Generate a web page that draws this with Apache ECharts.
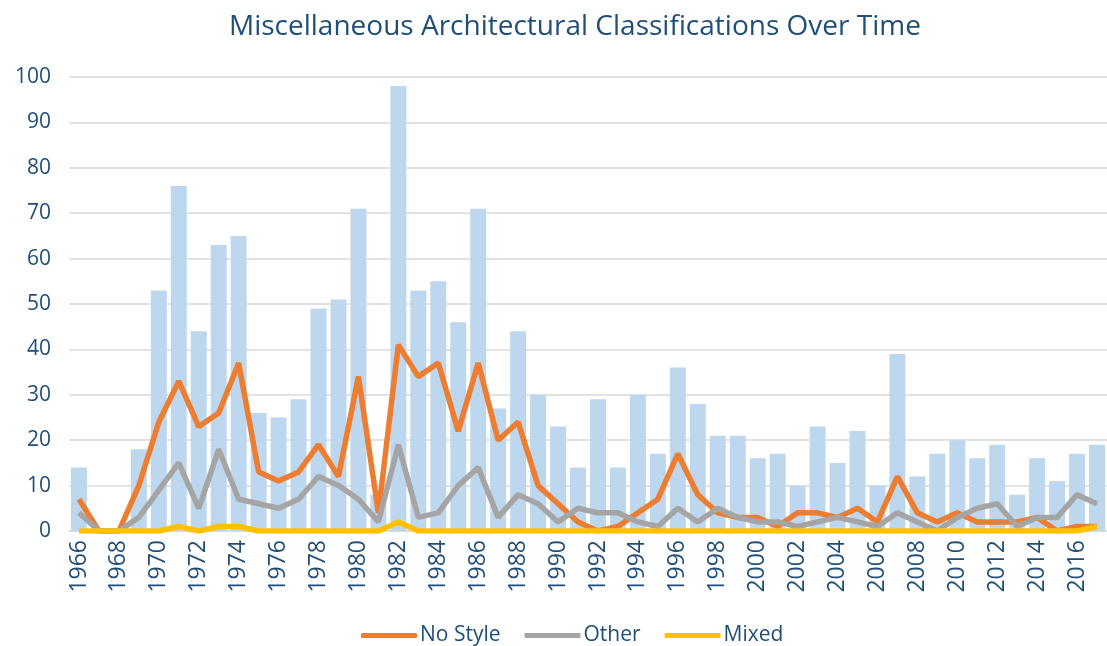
<!DOCTYPE html>
<html>
<head>
<meta charset="utf-8">
<script src="https://cdn.jsdelivr.net/npm/echarts@6/dist/echarts.min.js"></script>
<style>
  html, body { margin: 0; padding: 0; background: #fff; }
  #chart { width: 1107px; height: 646px; }
</style>
</head>
<body>
<div id="chart"></div>
<script>
// 年份
const years = []
for (let y = 1966; y <= 2017; y++) years.push(String(y))

// 总数 (浅蓝柱)
const totalValues = [14, 0, 0, 18, 53, 76, 44, 63, 65, 26, 25, 29, 49, 51, 71, 8, 98, 53, 55, 46,
  71, 27, 44, 30, 23, 14, 29, 14, 30, 17, 36, 28, 21, 21, 16, 17, 10, 23, 15, 22,
  10, 39, 12, 17, 20, 16, 19, 8, 16, 11, 17, 19]
const noStyleValues = [7, 0, 0, 10, 24, 33, 23, 26, 37, 13, 11, 13, 19, 12, 34, 4, 41, 34, 37, 22,
  37, 20, 24, 10, 6, 2, 0, 1, 4, 7, 17, 8, 4, 3, 3, 1, 4, 4, 3, 5,
  2, 12, 4, 2, 4, 2, 2, 2, 3, 0, 1, 1]
const otherValues = [4, 0, 0, 3, 9, 15, 5, 18, 7, 6, 5, 7, 12, 10, 7, 2, 19, 3, 4, 10,
  14, 3, 8, 6, 2, 5, 4, 4, 2, 1, 5, 2, 5, 3, 2, 2, 1, 2, 3, 2,
  1, 4, 2, 0, 3, 5, 6, 1, 3, 3, 8, 6]
const mixedValues = [0, 0, 0, 0, 0, 1, 0, 1, 1, 0, 0, 0, 0, 0, 0, 0, 2, 0, 0, 0,
  0, 0, 0, 0, 0, 0, 0, 0, 0, 0, 0, 0, 0, 0, 0, 0, 0, 0, 0, 0,
  0, 0, 0, 0, 0, 0, 0, 0, 0, 0, 0, 1]

const textColor = '#1F4E79'
const font = 'Open Sans'

const chart = echarts.init(document.getElementById('chart'))
const option = {
  animation: false,
  textStyle: { fontFamily: font },
  title: {
    text: 'Miscellaneous Architectural Classifications Over Time',
    left: 224,
    top: 8,
    textStyle: { color: textColor, fontSize: 28, fontWeight: 'normal', fontFamily: font }
  },
  legend: {
    data: ['No Style', 'Other', 'Mixed'],
    top: 620,
    left: 356,
    icon: 'roundRect',
    itemWidth: 56,
    itemHeight: 5,
    itemGap: 24,
    textStyle: { color: textColor, fontSize: 21, fontFamily: font, padding: [0, 0, 0, -2] }
  },
  grid: {
    left: 69,
    right: -7,
    top: 77,
    bottom: 115
  },
  xAxis: {
    type: 'category',
    data: years,
    axisTick: { show: false },
    axisLine: { lineStyle: { color: '#D9D9D9', width: 1.5 } },
    axisLabel: {
      interval: 1,
      rotate: 90,
      margin: 9,
      color: textColor,
      fontSize: 23,
      fontFamily: font
    }
  },
  yAxis: {
    type: 'value',
    min: 0,
    max: 100,
    interval: 10,
    axisLine: { show: false },
    axisTick: { show: false },
    axisLabel: { color: textColor, fontSize: 21, fontFamily: font, margin: 18 },
    splitLine: { lineStyle: { color: '#D9D9D9', width: 1.5 } }
  },
  series: [
    {
      name: 'Total',
      type: 'bar',
      data: totalValues,
      barCategoryGap: '20%',
      itemStyle: { color: '#BDD7EE' }
    },
    {
      name: 'No Style',
      type: 'line',
      data: noStyleValues,
      symbol: 'none',
      lineStyle: { color: '#ED7D31', width: 5.5 },
      itemStyle: { color: '#ED7D31' }
    },
    {
      name: 'Other',
      type: 'line',
      data: otherValues,
      symbol: 'none',
      lineStyle: { color: '#A5A5A5', width: 5.5 },
      itemStyle: { color: '#A5A5A5' }
    },
    {
      name: 'Mixed',
      type: 'line',
      data: mixedValues,
      symbol: 'none',
      lineStyle: { color: '#FFC000', width: 5.5 },
      itemStyle: { color: '#FFC000' }
    }
  ]
}
chart.setOption(option)
</script>
</body>
</html>
